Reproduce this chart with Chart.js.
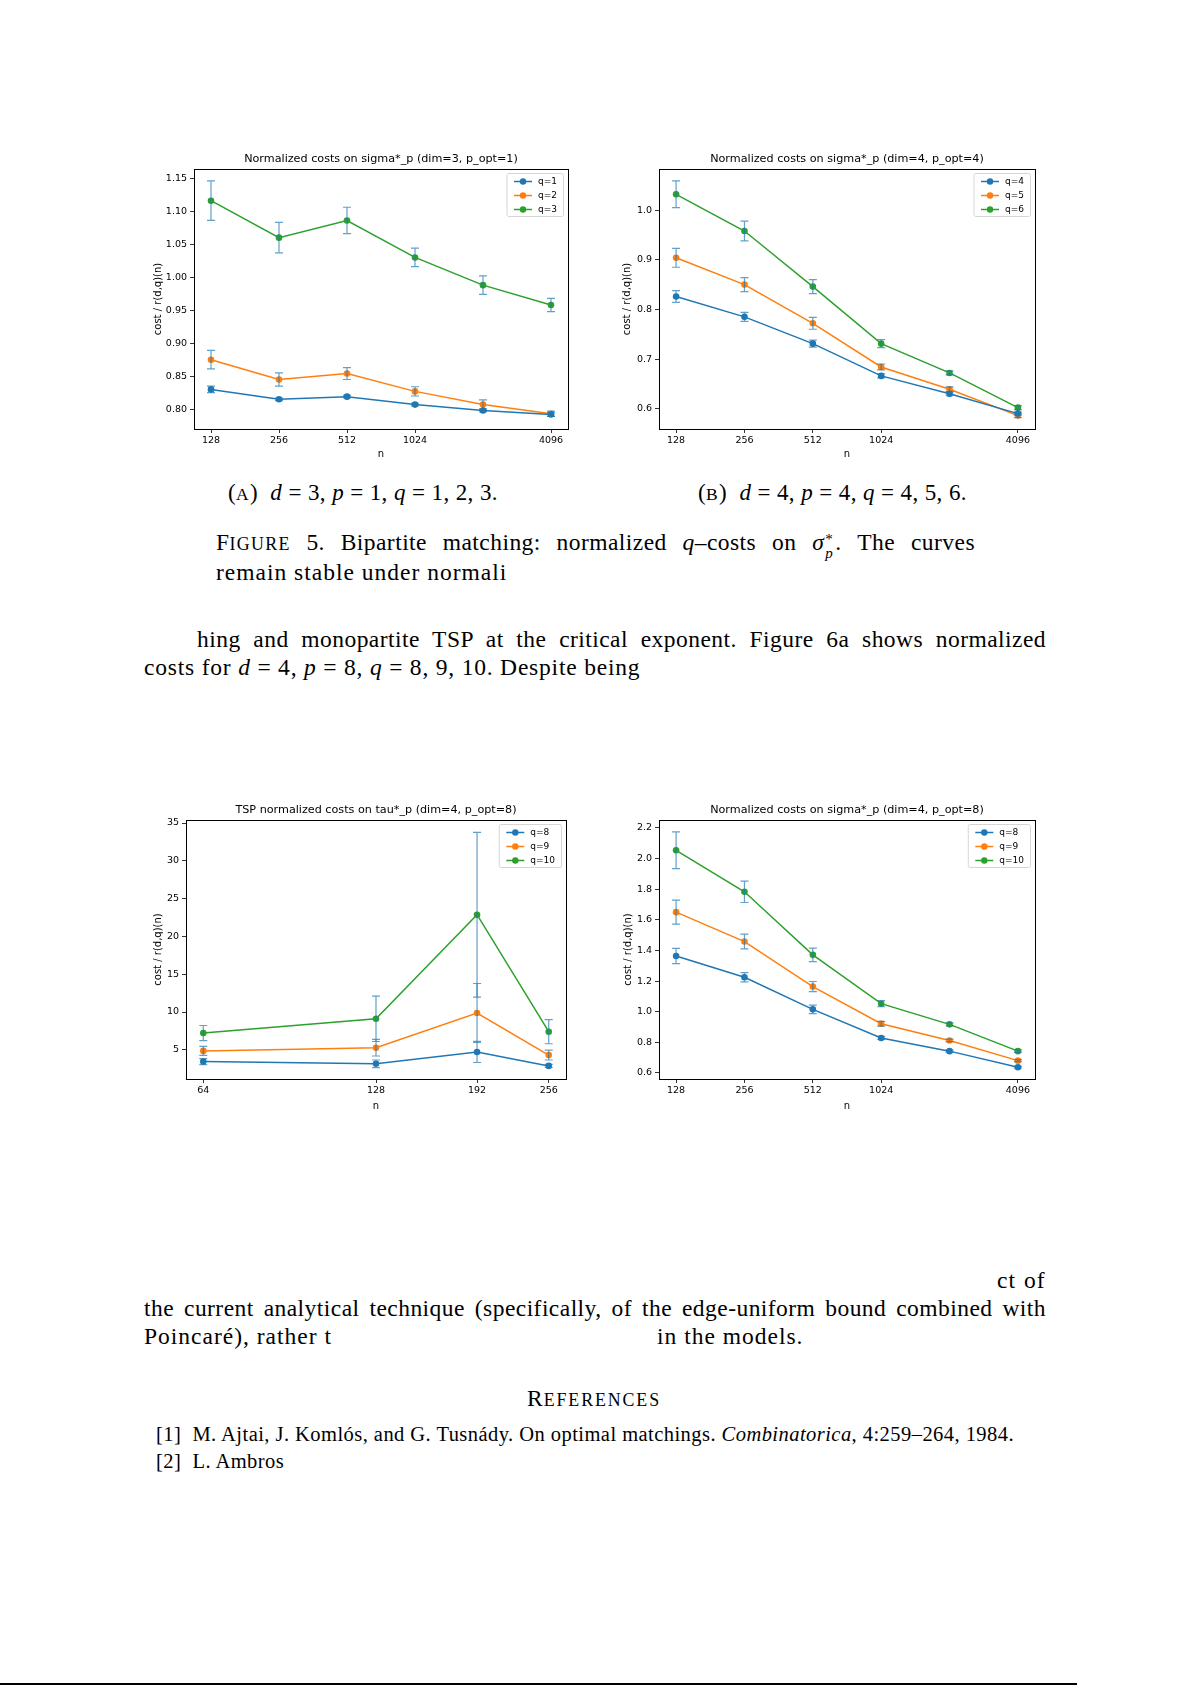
<!DOCTYPE html>
<html>
<head>
<meta charset="utf-8">
<script src="https://cdn.jsdelivr.net/npm/chart.js@4.4.1/dist/chart.umd.min.js"></script>
<style>
  body { margin: 0; background: #fff; }
  #page { position: relative; width: 1192px; height: 1685px; overflow: hidden; background: #fff; }
  .plot { position: absolute; }
  .tx { position: absolute; font-family: "Liberation Serif", serif; font-size: 23.5px; letter-spacing: 1px; line-height: 1; white-space: nowrap; color: #000; }
  .cap { font-size: 23px; letter-spacing: 0.4px; }
  .just { white-space: normal; text-align: justify; text-align-last: justify; letter-spacing: 0.45px; }
  .sc { font-size: 0.76em; text-transform: uppercase; letter-spacing: 1.3px; }
  .ref { font-size: 20.5px; letter-spacing: 0.45px; }
  .ss { display: inline-block; position: relative; width: 11px; height: 0; }
  .ss span { position: absolute; left: 1px; font-size: 15px; }
  #rule { position: absolute; left: 0; top: 1683px; width: 1077px; height: 2px; background: #000; }
</style>
</head>
<body>
<div id="page">
  <div class="plot" style="left:134px;top:139px"><canvas id="chA" width="444" height="326"></canvas></div>
  <div class="plot" style="left:599px;top:139px"><canvas id="chB" width="446" height="326"></canvas></div>
  <div class="plot" style="left:126px;top:790px"><canvas id="chC" width="450" height="325"></canvas></div>
  <div class="plot" style="left:599px;top:790px"><canvas id="chD" width="446" height="325"></canvas></div>

  <div class="tx cap" style="left:228px;top:481px">(<span class="sc">a</span>) &nbsp;<i>d</i> = 3, <i>p</i> = 1, <i>q</i> = 1, 2, 3.</div>
  <div class="tx cap" style="left:698px;top:481px">(<span class="sc">b</span>) &nbsp;<i>d</i> = 4, <i>p</i> = 4, <i>q</i> = 4, 5, 6.</div>

  <div class="tx just" style="left:216px;top:531px;width:759px">F<span class="sc">igure</span> 5. Bipartite matching: normalized <i>q</i>–costs on <i>σ</i><span class="ss"><span style="top:-18px">*</span><span style="top:-4px;font-style:italic">p</span></span>. The curves</div>
  <div class="tx" style="left:216px;top:561px">remain stable under normali</div>

  <div class="tx just" style="left:197px;top:628px;width:849px">hing and monopartite TSP at the critical exponent. Figure 6a shows normalized</div>
  <div class="tx" style="left:144px;top:656px;letter-spacing:0.8px">costs for <i>d</i> = 4, <i>p</i> = 8, <i>q</i> = 8, 9, 10. Despite being</div>

  <div class="tx" style="left:997px;top:1269px">ct</div>
  <div class="tx" style="left:1024px;top:1269px">of</div>
  <div class="tx just" style="left:144px;top:1297px;width:902px">the current analytical technique (specifically, of the edge-uniform bound combined with</div>
  <div class="tx" style="left:144px;top:1325px">Poincaré), rather t</div>
  <div class="tx" style="left:657px;top:1325px">in the models.</div>

  <div class="tx" style="left:527px;top:1387px">R<span class="sc" style="letter-spacing:1.9px">eferences</span></div>
  <div class="tx ref" style="left:156px;top:1424px">[1] &nbsp;M. Ajtai, J. Komlós, and G. Tusnády. On optimal matchings. <i>Combinatorica</i>, 4:259–264, 1984.</div>
  <div class="tx ref" style="left:156px;top:1451px">[2] &nbsp;L. Ambros</div>

  <div id="rule"></div>
</div>

<script>
  // sample sizes and tick positions
  var nBip = [128, 256, 512, 1024, 2048, 4096];
  var nTsp = [64, 128, 192, 256];
  var xTicksBip = [128, 256, 512, 1024, 4096];
  var xTicksTsp = [64, 128, 192, 256];

  // fig 5a: sigma*_p, dim=3, p_opt=1
  var d3q1 = [0.831, 0.816, 0.820, 0.808, 0.799, 0.793];
  var d3q1Err = [0.005, 0.002, 0.002, 0.002, 0.002, 0.003];
  var d3q2 = [0.876, 0.846, 0.855, 0.828, 0.808, 0.794];
  var d3q2Err = [0.014, 0.010, 0.009, 0.007, 0.007, 0.004];
  var d3q3 = [1.117, 1.061, 1.087, 1.031, 0.989, 0.959];
  var d3q3Err = [0.030, 0.023, 0.020, 0.014, 0.014, 0.010];
  var yTicksA = [0.80, 0.85, 0.90, 0.95, 1.00, 1.05, 1.10, 1.15];

  // fig 5b: sigma*_p, dim=4, p_opt=4
  var d4q4 = [0.826, 0.785, 0.731, 0.666, 0.630, 0.590];
  var d4q4Err = [0.012, 0.009, 0.007, 0.004, 0.004, 0.003];
  var d4q5 = [0.904, 0.850, 0.772, 0.684, 0.639, 0.586];
  var d4q5Err = [0.019, 0.014, 0.012, 0.006, 0.005, 0.004];
  var d4q6 = [1.032, 0.958, 0.846, 0.731, 0.672, 0.602];
  var d4q6Err = [0.027, 0.020, 0.014, 0.008, 0.004, 0.004];
  var yTicksB = [0.6, 0.7, 0.8, 0.9, 1.0];

  // fig 6a: TSP on tau*_p, dim=4, p_opt=8
  var tspQ8 = [3.44, 3.15, 4.72, 2.87];
  var tspQ8Err = [0.4, 0.5, 1.4, 0.2];
  var tspQ9 = [4.86, 5.28, 9.87, 4.30];
  var tspQ9Err = [0.6, 1.1, 3.9, 0.65];
  var tspQ10 = [7.22, 9.10, 22.87, 7.40];
  var tspQ10Err = [1.0, 3.0, 10.9, 1.6];
  var yTicksC = [5, 10, 15, 20, 25, 30, 35];

  // fig 6b: sigma*_p, dim=4, p_opt=8
  var d4q8 = [1.364, 1.225, 1.015, 0.828, 0.742, 0.637];
  var d4q8Err = [0.050, 0.030, 0.028, 0.010, 0.008, 0.006];
  var d4q9 = [1.650, 1.458, 1.164, 0.921, 0.812, 0.680];
  var d4q9Err = [0.078, 0.048, 0.033, 0.015, 0.008, 0.006];
  var d4q10 = [2.054, 1.783, 1.371, 1.052, 0.917, 0.742];
  var d4q10Err = [0.120, 0.070, 0.044, 0.020, 0.010, 0.008];
  var yTicksD = [0.6, 0.8, 1.0, 1.2, 1.4, 1.6, 1.8, 2.0, 2.2];

  var C0 = '#1f77b4', C1 = '#ff7f0e', C2 = '#2ca02c';
  var MPL = '"DejaVu Sans", sans-serif';

  var mplDecor = {
    id: 'mplDecor',
    afterDatasetsDraw: function(chart) {
      var ctx = chart.ctx;
      var xs = chart.scales.x, ys = chart.scales.y;
      ctx.save();
      ctx.strokeStyle = 'rgba(31,119,180,0.7)';
      ctx.lineWidth = 1.2;
      chart.data.datasets.forEach(function(ds) {
        ds.data.forEach(function(pt, i) {
          var e = ds.errs[i];
          var px = xs.getPixelForValue(pt.x);
          var top = ys.getPixelForValue(pt.y + e);
          var bot = ys.getPixelForValue(pt.y - e);
          ctx.beginPath();
          ctx.moveTo(px, top); ctx.lineTo(px, bot);
          ctx.moveTo(px - 4, top); ctx.lineTo(px + 4, top);
          ctx.moveTo(px - 4, bot); ctx.lineTo(px + 4, bot);
          ctx.stroke();
        });
      });
      ctx.restore();
    },
    afterDraw: function(chart, args, opts) {
      var ctx = chart.ctx, a = chart.chartArea;
      ctx.save();
      // full box like matplotlib spines
      ctx.strokeStyle = '#000';
      ctx.lineWidth = 1;
      ctx.strokeRect(Math.round(a.left) + 0.5, Math.round(a.top) + 0.5,
        Math.round(a.right - a.left), Math.round(a.bottom - a.top));

      ctx.fillStyle = '#000';
      ctx.textAlign = 'center';
      ctx.textBaseline = 'middle';
      ctx.font = '11.2px ' + MPL;
      ctx.fillText(opts.title, (a.left + a.right) / 2, a.top - 10);

      ctx.font = '10px ' + MPL;
      ctx.fillText('n', (a.left + a.right) / 2, a.bottom + opts.xLabelOff);

      ctx.save();
      ctx.translate(a.left - opts.yLabelOff, (a.top + a.bottom) / 2);
      ctx.rotate(-Math.PI / 2);
      ctx.fillText('cost / r(d,q)(n)', 0, 0);
      ctx.restore();

      // legend, upper right
      var dsets = chart.data.datasets;
      ctx.font = '9px ' + MPL;
      var tw = 0;
      dsets.forEach(function(ds) { tw = Math.max(tw, ctx.measureText(ds.label).width); });
      var bw = 31.5 + tw + 6, bh = 43;
      var bx = a.right - 5 - bw, by = a.top + 4;
      ctx.fillStyle = 'rgba(255,255,255,0.85)';
      ctx.strokeStyle = '#d6d6d6';
      ctx.lineWidth = 1;
      ctx.beginPath();
      ctx.roundRect(bx + 0.5, by + 0.5, bw, bh, 2);
      ctx.fill();
      ctx.stroke();
      dsets.forEach(function(ds, i) {
        var ry = by + 8.5 + i * 14;
        ctx.strokeStyle = ds.borderColor;
        ctx.lineWidth = 1.5;
        ctx.beginPath();
        ctx.moveTo(bx + 7.5, ry); ctx.lineTo(bx + 25.5, ry);
        ctx.stroke();
        ctx.fillStyle = ds.borderColor;
        ctx.beginPath();
        ctx.arc(bx + 16.5, ry, 3.2, 0, Math.PI * 2);
        ctx.fill();
        ctx.fillStyle = '#000';
        ctx.textAlign = 'left';
        ctx.fillText(ds.label, bx + 31.5, ry + 0.5);
      });
      ctx.restore();
    }
  };

  var makeChart = function(id, cfg) {
    var datasets = cfg.series.map(function(s) {
      return {
        label: s.label,
        data: cfg.n.map(function(v, i) { return { x: Math.log2(v), y: s.vals[i] }; }),
        errs: s.errs,
        borderColor: s.color,
        backgroundColor: s.color,
        borderWidth: 1.5,
        pointRadius: 3.3,
        pointBorderWidth: 0,
        pointBackgroundColor: s.color,
        tension: 0
      };
    });

    var tickFont = { family: MPL, size: 9.5 };
    var gridCfg = { drawOnChartArea: false, drawTicks: true, tickLength: 4, color: '#000', lineWidth: 0.8 };

    return new Chart(document.getElementById(id), {
      type: 'line',
      data: { datasets: datasets },
      plugins: [mplDecor],
      options: {
        responsive: false,
        animation: false,
        layout: { padding: { left: 0, top: 30, right: 10, bottom: 0 } },
        plugins: {
          legend: { display: false },
          title: { display: false },
          tooltip: { enabled: false },
          mplDecor: { title: cfg.title, yLabelOff: cfg.yLabelOff, xLabelOff: cfg.xLabelOff }
        },
        scales: {
          x: {
            type: 'linear',
            min: cfg.xMin, max: cfg.xMax,
            afterBuildTicks: function(scale) {
              scale.ticks = cfg.xTicks.map(function(v) { return { value: Math.log2(v) }; });
            },
            afterFit: function(scale) { scale.height = 36; },
            ticks: {
              autoSkip: false, maxRotation: 0, padding: 2, color: '#000', font: tickFont,
              callback: function(v) { return String(Math.round(Math.pow(2, v))); }
            },
            grid: gridCfg,
            border: { display: true, color: '#000', width: 1 }
          },
          y: {
            type: 'linear',
            min: cfg.yMin, max: cfg.yMax,
            afterBuildTicks: function(scale) {
              scale.ticks = cfg.yTicks.map(function(v) { return { value: v }; });
            },
            afterFit: function(scale) { scale.width = 60; },
            ticks: {
              autoSkip: false, padding: 3, color: '#000', font: tickFont,
              callback: function(v) { return v.toFixed(cfg.yDec); }
            },
            grid: gridCfg,
            border: { display: true, color: '#000', width: 1 }
          }
        }
      }
    });
  };

  makeChart('chA', {
    title: 'Normalized costs on sigma*_p (dim=3, p_opt=1)',
    n: nBip, xTicks: xTicksBip, xMin: 6.75, xMax: 12.25,
    yTicks: yTicksA, yDec: 2, yMin: 0.771, yMax: 1.165, yLabelOff: 36, xLabelOff: 25,
    series: [
      { label: 'q=1', vals: d3q1, errs: d3q1Err, color: C0 },
      { label: 'q=2', vals: d3q2, errs: d3q2Err, color: C1 },
      { label: 'q=3', vals: d3q3, errs: d3q3Err, color: C2 }
    ]
  });

  makeChart('chB', {
    title: 'Normalized costs on sigma*_p (dim=4, p_opt=4)',
    n: nBip, xTicks: xTicksBip, xMin: 6.75, xMax: 12.25,
    yTicks: yTicksB, yDec: 1, yMin: 0.559, yMax: 1.083, yLabelOff: 32, xLabelOff: 25,
    series: [
      { label: 'q=4', vals: d4q4, errs: d4q4Err, color: C0 },
      { label: 'q=5', vals: d4q5, errs: d4q5Err, color: C1 },
      { label: 'q=6', vals: d4q6, errs: d4q6Err, color: C2 }
    ]
  });

  makeChart('chC', {
    title: 'TSP normalized costs on tau*_p (dim=4, p_opt=8)',
    n: nTsp, xTicks: xTicksTsp, xMin: 5.9, xMax: 8.1,
    yTicks: yTicksC, yDec: 0, yMin: 1.14, yMax: 35.4, yLabelOff: 28, xLabelOff: 27,
    series: [
      { label: 'q=8', vals: tspQ8, errs: tspQ8Err, color: C0 },
      { label: 'q=9', vals: tspQ9, errs: tspQ9Err, color: C1 },
      { label: 'q=10', vals: tspQ10, errs: tspQ10Err, color: C2 }
    ]
  });

  makeChart('chD', {
    title: 'Normalized costs on sigma*_p (dim=4, p_opt=8)',
    n: nBip, xTicks: xTicksBip, xMin: 6.75, xMax: 12.25,
    yTicks: yTicksD, yDec: 1, yMin: 0.56, yMax: 2.252, yLabelOff: 31, xLabelOff: 27,
    series: [
      { label: 'q=8', vals: d4q8, errs: d4q8Err, color: C0 },
      { label: 'q=9', vals: d4q9, errs: d4q9Err, color: C1 },
      { label: 'q=10', vals: d4q10, errs: d4q10Err, color: C2 }
    ]
  });
</script>
</body>
</html>
